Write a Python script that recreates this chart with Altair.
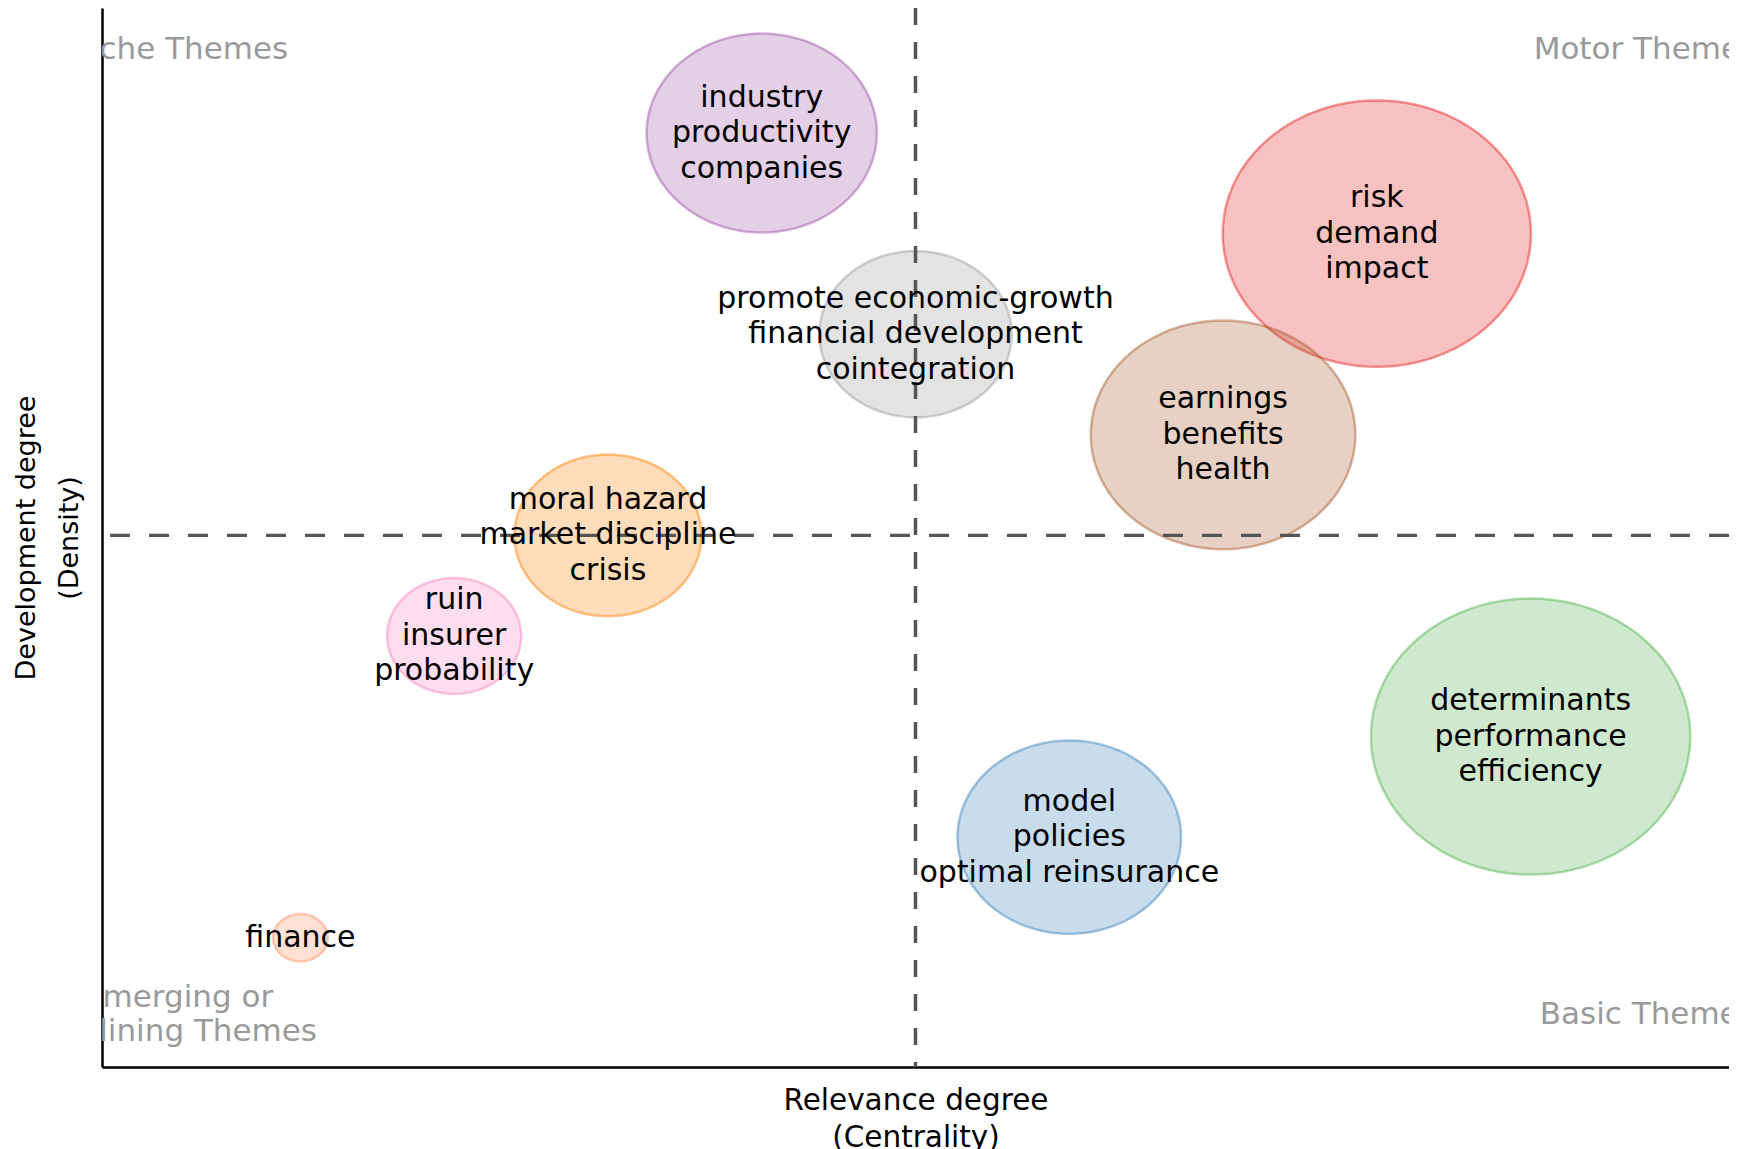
import altair as alt
import pandas as pd
import numpy as np

# ---- data ----
cluster = ["industry", "risk", "promote economic-growth", "earnings", "moral hazard",
           "ruin", "determinants", "model", "finance"]
labels = [
    "industry\nproductivity\ncompanies",
    "risk\ndemand\nimpact",
    "promote economic-growth\nfinancial development\ncointegration",
    "earnings\nbenefits\nhealth",
    "moral hazard\nmarket discipline\ncrisis",
    "ruin\ninsurer\nprobability",
    "determinants\nperformance\nefficiency",
    "model\npolicies\noptimal reinsurance",
    "finance",
]
centrality_rank = [4, 8, 5, 7, 3, 2, 9, 6, 1]
density_rank = [9, 8, 7, 6, 5, 4, 3, 2, 1]
frequency = [53, 95, 37, 70, 35, 18, 102, 50, 3]
colors = ["#984EA3", "#E41A1C", "#999999", "#A65628", "#FF7F00",
          "#F781BF", "#4DAF4A", "#377EB8", "#FC8D62"]

quad_text = ["Niche Themes", "Motor Themes", "Emerging or\nDeclining Themes", "Basic Themes"]
quad_x = [0.204, 9.743, 0.205, 9.759]
quad_y = [9.83, 9.83, 0.23, 0.23]

mid_x = [5]
mid_y = [5]

# ---- tables ----
df = pd.DataFrame({"cluster": cluster, "label": labels, "cx": centrality_rank,
                   "cy": density_rank, "freq": frequency})
df["lines"] = df["label"].str.count("\n") + 1
qdf = pd.DataFrame({"label": quad_text, "cx": quad_x, "cy": quad_y})
qdf["lines"] = qdf["label"].str.count("\n") + 1
vdf = pd.DataFrame({"cx": mid_x})
hdf = pd.DataFrame({"cy": mid_y})

# ellipse symbol (picture is horizontally stretched)
K = 1 / 1.157
t = np.linspace(0, 2 * np.pi, 97)[:-1]
ellipse = "M" + " L".join(f"{np.cos(a):.4f},{K * np.sin(a):.4f}" for a in t) + " Z"

FONT = "DejaVu Sans"
LH = 35.5
QLH = 34

X = alt.X("cx:Q",
          scale=alt.Scale(domain=[-0.29, 10.29], nice=False, zero=False),
          axis=alt.Axis(title=["Relevance degree", "(Centrality)"], labels=False, ticks=False,
                        grid=False, domainColor="black", domainWidth=2.5,
                        titleFont=FONT, titleFontSize=29.5, titleFontWeight="normal",
                        titleColor="black", titleBaseline="alphabetic",
                        titlePadding=42, titleLineHeight=37))
Y = alt.Y("cy:Q",
          scale=alt.Scale(domain=[-0.285, 10.243], nice=False, zero=False),
          axis=alt.Axis(title=["Development degree", "(Density)"], labels=False, ticks=False,
                        grid=False, domainColor="black", domainWidth=2.5,
                        titleFont=FONT, titleFontSize=27, titleFontWeight="normal",
                        titleColor="black", titleBaseline="alphabetic",
                        titlePadding=25, titleLineHeight=43))

cscale = alt.Scale(domain=cluster, range=colors)

bubbles = alt.Chart(df).mark_point(
    shape=ellipse, opacity=1, fillOpacity=0.27, strokeOpacity=0.45, strokeWidth=2.5
).encode(
    x=X, y=Y,
    fill=alt.Fill("cluster:N", scale=cscale, legend=None),
    stroke=alt.Stroke("cluster:N", scale=cscale, legend=None),
    size=alt.Size("freq:Q", scale=alt.Scale(type="linear", domain=[0, 100], range=[0, 100000]),
                  legend=None),
)

vrule = alt.Chart(vdf).mark_rule(color="#555555", strokeWidth=3.5, strokeDash=[17, 17]).encode(x=X)
hrule = alt.Chart(hdf).mark_rule(color="#555555", strokeWidth=3.2, strokeDash=[20, 19]).encode(y=Y)

def label_layer(data, n, lh, color, clip, fs):
    return alt.Chart(data).transform_filter(f"datum.lines == {n}").mark_text(
        font=FONT, fontSize=fs, lineBreak="\n", lineHeight=lh,
        align="center", baseline="middle", color=color, clip=clip,
        dy=-(n - 1) * lh / 2,
    ).encode(x=X, y=Y, text="label:N")

texts3 = label_layer(df, 3, LH, "black", False, 30)
texts1 = label_layer(df, 1, LH, "black", False, 30)
quads1 = label_layer(qdf, 1, QLH, "#9a9a9a", True, 31)
quads2 = label_layer(qdf, 2, QLH, "#9a9a9a", True, 31)

chart = alt.layer(bubbles, vrule, hrule, texts3, texts1, quads1, quads2).properties(
    width=1627, height=1059,
    padding={"left": 94, "top": 0, "right": 0, "bottom": 82},
    autosize=alt.AutoSizeParams(type="none"),
).configure_view(stroke=None)

chart.save("out.html", embed_options={"renderer": "svg", "actions": False})
